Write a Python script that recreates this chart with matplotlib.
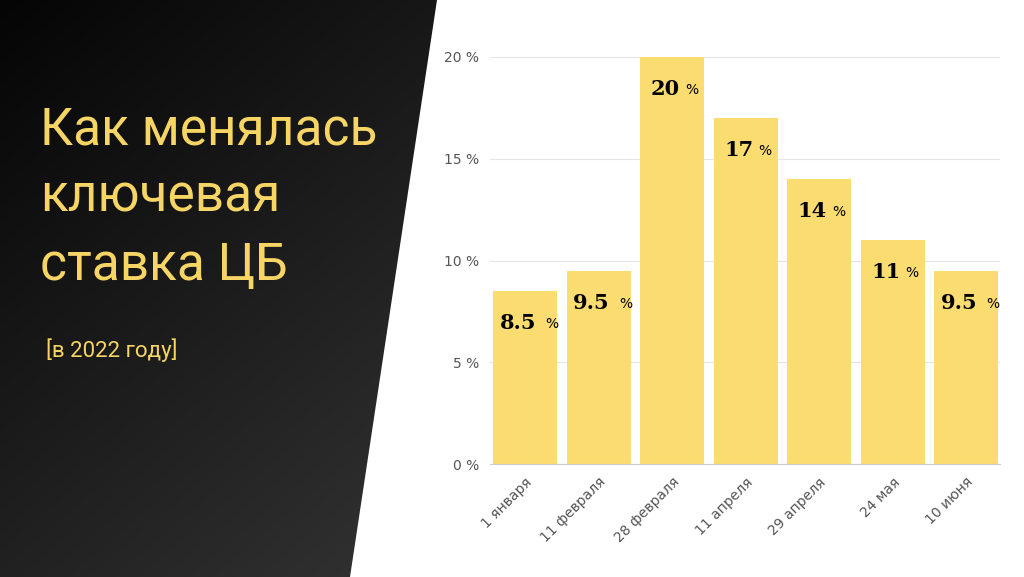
import matplotlib
matplotlib.use("Agg")
import matplotlib.pyplot as plt
import numpy as np
from matplotlib.patches import Polygon

categories = ["1 января", "11 февраля", "28 февраля", "11 апреля", "29 апреля", "24 мая", "10 июня"]
values = [8.5, 9.5, 20, 17, 14, 11, 9.5]
labels = ["8.5", "9.5", "20", "17", "14", "11", "9.5"]

W, H = 1024, 577
fig = plt.figure(figsize=(W/100, H/100), dpi=100)
fig.patch.set_facecolor("white")

bg = fig.add_axes([0, 0, 1, 1])
bg.set_xlim(0, W); bg.set_ylim(H, 0); bg.axis("off")
yy, xx = np.mgrid[0:H, 0:W]
grad = (xx / W * 0.6 + yy / H * 0.4)
img = bg.imshow(grad, cmap=matplotlib.colors.LinearSegmentedColormap.from_list("g", ["#050505", "#3a3a3a"]),
                extent=[0, W, H, 0], vmin=0, vmax=0.75, zorder=0)
poly = Polygon([[0, 0], [437, 0], [350, H], [0, H]], closed=True, transform=bg.transData, facecolor="none", edgecolor="none")
bg.add_patch(poly)
img.set_clip_path(poly)

yellow = "#F7D565"
fig.text(40/W, 1-198/H, "Как менялась\nключевая\nставка ЦБ", color=yellow, fontsize=37,
         family="Roboto", va="center", ha="left", linespacing=1.45)
fig.text(46/W, 1-350/H, "[в 2022 году]", color=yellow, fontsize=16, family="Roboto", va="center")

ax = fig.add_axes([490/W, 1-464/H, 510/W, (464-57)/H])
x = np.arange(len(values))
ax.bar(x, values, width=0.87, color="#FADC70", zorder=2, clip_on=False)
ax.set_xlim(-0.476, 6.46)
ax.set_ylim(0, 20)
ax.set_yticks([0, 5, 10, 15, 20])
ax.set_yticklabels([f"{v} %" for v in [0, 5, 10, 15, 20]], color="#555555", fontsize=10)
ax.grid(axis="y", color="#e6e6e6", lw=0.8, zorder=0)
ax.set_xticks(x)
ax.set_xticklabels(categories, rotation=45, ha="right", rotation_mode="anchor", color="#555555", fontsize=10)
for s in ax.spines.values():
    s.set_visible(False)
ax.spines["bottom"].set_visible(True); ax.spines["bottom"].set_color("#cccccc")
ax.tick_params(length=0, pad=8)
ax.set_facecolor("none")
for xi, v, l in zip(x, values, labels):
    ax.annotate(l, (xi, v), xytext=(-5, -23), textcoords="offset points", ha="center", va="center",
                fontsize=15, fontweight="heavy", family="DejaVu Serif", color="black")
    ax.annotate("%", (xi, v), xytext=(-5 + 5.2*len(l) + 4, -24), textcoords="offset points", ha="left",
                va="center", fontsize=10, color="black")
fig.savefig("out.png", dpi=100)
